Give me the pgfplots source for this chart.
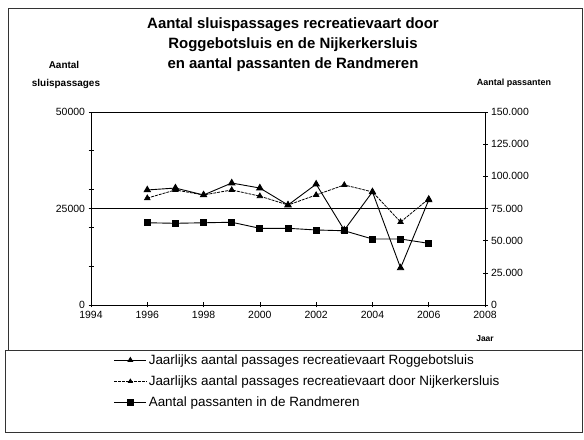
\documentclass[border=0pt]{standalone}
\usepackage{pgfplots}
\pgfplotsset{compat=1.18}
\usepackage{fontspec}
\setmainfont{Liberation Sans}
\begin{document}
\begin{tikzpicture}[x=1bp,y=1bp]
\path[use as bounding box] (0,0) rectangle (584,440);
\draw[black!80, line width=0.6pt] (8,90) rectangle (582,432);
\draw[black!80, line width=0.6pt] (5,8) rectangle (582,90);
\node[font=\bfseries\fontsize{15}{20}\selectfont, align=center] at (293,395) {Aantal sluispassages recreatievaart door\\Roggebotsluis en de Nijkerkersluis\\en aantal passanten de Randmeren};
\node[font=\bfseries\fontsize{10}{12}\selectfont] at (64,375) {Aantal};
\node[font=\bfseries\fontsize{10}{12}\selectfont] at (66,356) {sluispassages};
\node[font=\bfseries\fontsize{9}{11}\selectfont] at (514,357) {Aantal passanten};
\node[font=\bfseries\fontsize{8.5}{10}\selectfont] at (485,101) {Jaar};
\begin{axis}[
  at={(91bp,135bp)}, anchor=south west,
  scale only axis, width=394bp, height=193bp,
  xmin=1994, xmax=2008, ymin=0, ymax=50000,
  xtick={1994,1996,...,2008},
  xticklabels={1994,1996,1998,2000,2002,2004,2006,2008},
  ytick={0,25000,50000},
  yticklabels={0,25000,50000},
  minor ytick={10000,20000,30000,40000},
  xtick pos=left, ytick pos=left,
  tick align=center,
  major tick length=5bp, minor tick length=5bp,
  tick style={black, line width=0.6pt},
  axis line style={black, line width=0.6pt},
  scaled ticks=false,
  ticklabel style={font=\fontsize{10.5}{12}\selectfont},
  extra y ticks={25000}, extra y tick labels={},
  extra y tick style={grid=major, major grid style={black, line width=0.7pt}},
]
\addplot[black, line width=0.9pt, mark=triangle*, mark size=3.6pt] coordinates {
(1996,29800) (1997,30300) (1998,28500) (1999,31600) (2000,30300) (2001,25900)
(2002,31300) (2003,19400) (2004,29300) (2005,9600) (2006,27200)};
\addplot[black, line width=0.8pt, dash pattern=on 3pt off 1pt, mark=triangle*, mark size=3.1pt, mark options={solid}] coordinates {
(1996,27700) (1997,29800) (1998,28500) (1999,29800) (2000,28200) (2001,25900)
(2002,28500) (2003,31100) (2004,29300) (2005,21500) (2006,27500)};
\end{axis}
\begin{axis}[
  at={(91bp,135bp)}, anchor=south west,
  scale only axis, width=394bp, height=193bp,
  xmin=1994, xmax=2008, ymin=0, ymax=150000,
  axis x line=none, axis y line*=right,
  ytick={0,25000,50000,75000,100000,125000,150000},
  yticklabels={0,25.000,50.000,75.000,100.000,125.000,150.000},
  tick align=center, major tick length=5bp,
  tick style={black, line width=0.6pt},
  axis line style={black, line width=0.6pt},
  scaled ticks=false,
  ticklabel style={font=\fontsize{10.5}{12}\selectfont},
  legend style={at={(0.05,-0.235)}, anchor=north west, draw=none, fill=none,
    font=\fontsize{13.5}{15}\selectfont, row sep=6bp, cells={anchor=west}},
  legend image code/.code={\draw[mark repeat=2,mark phase=2,#1] plot coordinates {(0bp,0bp) (16bp,0bp) (32bp,0bp)};},
]
\addlegendimage{black, line width=0.9pt, mark=triangle*, mark size=2.6pt}
\addlegendentry{Jaarlijks aantal passages recreatievaart Roggebotsluis}
\addlegendimage{black, line width=0.8pt, dash pattern=on 3pt off 1pt, mark=triangle*, mark size=2.3pt, mark options={solid}}
\addlegendentry{Jaarlijks aantal passages recreatievaart door Nijkerkersluis}
\addplot[black, line width=0.9pt, mark=square*, mark size=3pt] coordinates {
(1996,63900) (1997,63500) (1998,63900) (1999,64300) (2000,59600) (2001,59600)
(2002,58300) (2003,57700) (2004,51300) (2005,51300) (2006,47900)};
\addlegendentry{Aantal passanten in de Randmeren}
\end{axis}
\end{tikzpicture}
\end{document}
